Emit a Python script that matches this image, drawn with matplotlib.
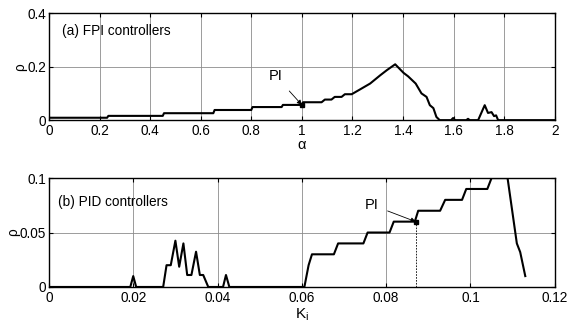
import matplotlib
matplotlib.use("Agg")
import matplotlib.pyplot as plt

plt.rcParams["font.family"] = ["Liberation Sans", "DejaVu Sans"]
plt.rcParams["font.size"] = 9.8

# (a) FPI controllers: rho vs alpha
alpha = [0, 0.23, 0.235, 0.45, 0.455, 0.65, 0.655, 0.80, 0.805, 0.92, 0.925, 1.0,
         1.005, 1.078, 1.091, 1.117, 1.13, 1.157, 1.17, 1.197, 1.23, 1.27, 1.31,
         1.336, 1.369, 1.402, 1.42, 1.45, 1.473, 1.493, 1.506, 1.52, 1.532, 1.545,
         1.59, 1.598, 1.606, 1.65, 1.657, 1.664, 1.697, 1.723, 1.736, 1.75, 1.76,
         1.768, 1.776, 2.0]
rho_a = [0.009, 0.009, 0.016, 0.016, 0.026, 0.026, 0.038, 0.038, 0.049, 0.049,
         0.057, 0.057, 0.067, 0.067, 0.077, 0.077, 0.087, 0.087, 0.097, 0.097,
         0.115, 0.137, 0.168, 0.187, 0.209, 0.177, 0.164, 0.137, 0.10, 0.087, 0.056,
         0.045, 0.012, 0.0, 0.0, 0.008, 0.0, 0.0, 0.005, 0.0, 0.0, 0.056, 0.027,
         0.03, 0.015, 0.018, 0.0, 0.0]
pi_a = (1.0, 0.057)

# (b) PID controllers: rho vs Ki
ki = [0, 0.0193, 0.02, 0.0207, 0.0271, 0.0279, 0.0289, 0.030, 0.0309, 0.0319,
      0.0328, 0.0338, 0.0349, 0.0358, 0.0366, 0.0378, 0.0413, 0.042, 0.0428,
      0.0606, 0.0616, 0.0624, 0.0676, 0.0686, 0.0746, 0.0756, 0.0808, 0.0818,
      0.0868, 0.0876, 0.0928, 0.094, 0.098, 0.099, 0.104, 0.105, 0.1088,
      0.111, 0.1118, 0.113]
rho_b = [0, 0, 0.01, 0, 0, 0.02, 0.02, 0.0425, 0.0186, 0.040, 0.011, 0.011,
         0.0324, 0.011, 0.011, 0, 0, 0.011, 0, 0, 0.02, 0.03, 0.03, 0.04, 0.04,
         0.05, 0.05, 0.06, 0.06, 0.07, 0.07, 0.08, 0.08, 0.09, 0.09, 0.1, 0.1,
         0.04, 0.032, 0.01]
pi_b = (0.087, 0.06)

fig = plt.figure(figsize=(5.69, 3.31), dpi=100)
fig.patch.set_facecolor("white")
ax1 = fig.add_axes([0.086, 0.637, 0.889, 0.323])
ax2 = fig.add_axes([0.086, 0.133, 0.889, 0.329])

for ax in (ax1, ax2):
    ax.grid(True, color="#8c8c8c", linewidth=0.6)
    ax.set_axisbelow(True)
    ax.tick_params(direction="in", top=True, right=True, length=3)
    ax.tick_params(axis="x", pad=3)
    ax.tick_params(axis="y", pad=2)
    for s in ax.spines.values():
        s.set_linewidth(1.0)

ax1.plot(alpha, rho_a, color="black", linewidth=1.5)
ax1.plot(*pi_a, marker="s", color="black", markersize=3.5)
ax1.annotate("PI", xy=pi_a, xytext=(0.897, 0.165), ha="center", va="center",
             fontsize=10.5, arrowprops=dict(arrowstyle="-|>", color="black", lw=0.6,
                                            mutation_scale=7, shrinkA=5, shrinkB=0))
ax1.set_xlim(0, 2)
ax1.set_ylim(0, 0.4)
ax1.set_xticks([0, 0.2, 0.4, 0.6, 0.8, 1, 1.2, 1.4, 1.6, 1.8, 2])
ax1.set_xticklabels(["0", "0.2", "0.4", "0.6", "0.8", "1", "1.2", "1.4", "1.6", "1.8", "2"])
ax1.set_yticks([0, 0.2, 0.4])
ax1.set_yticklabels(["0", "0.2", "0.4"])
ax1.set_xlabel("α", labelpad=0, fontsize=10.5)
ax1.set_ylabel("ρ", labelpad=0)
ax1.text(0.026, 0.83, "(a) FPI controllers", transform=ax1.transAxes,
         ha="left", va="center", fontsize=9.8)

ax2.plot(ki, rho_b, color="black", linewidth=1.5, clip_on=True)
ax2.plot([pi_b[0], pi_b[0]], [0, pi_b[1]], color="black", linewidth=0.6,
         linestyle=(0, (2, 1.5)))
ax2.plot(*pi_b, marker="s", color="black", markersize=3.5)
ax2.annotate("PI", xy=pi_b, xytext=(0.0765, 0.0755), ha="center", va="center",
             fontsize=10.5, arrowprops=dict(arrowstyle="-|>", color="black", lw=0.6,
                                            mutation_scale=7, shrinkA=5, shrinkB=0))
ax2.set_xlim(0, 0.12)
ax2.set_ylim(0, 0.1)
ax2.set_xticks([0, 0.02, 0.04, 0.06, 0.08, 0.1, 0.12])
ax2.set_xticklabels(["0", "0.02", "0.04", "0.06", "0.08", "0.1", "0.12"])
ax2.set_yticks([0, 0.05, 0.1])
ax2.set_yticklabels(["0", "0.05", "0.1"])
ax2.set_xlabel("K$_\\mathregular{i}$", labelpad=1, fontsize=11)
ax2.set_ylabel("ρ", labelpad=0)
ax2.text(0.018, 0.78, "(b) PID controllers", transform=ax2.transAxes,
         ha="left", va="center", fontsize=9.8)

fig.savefig("out.png", dpi=100)
plt.close(fig)
